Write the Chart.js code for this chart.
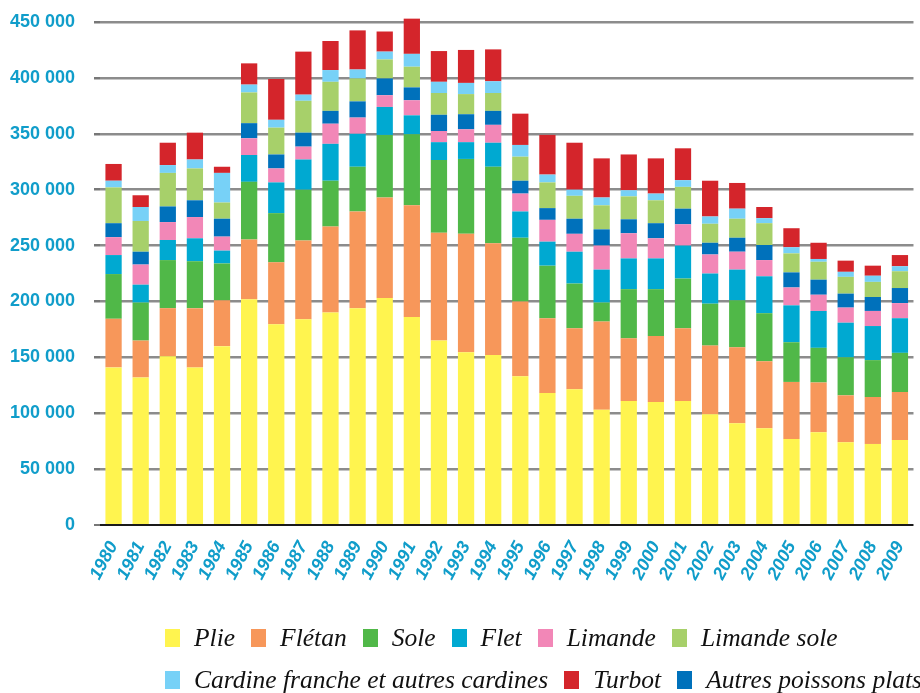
<!DOCTYPE html>
<html>
<head>
<meta charset="utf-8">
<script src="https://cdn.jsdelivr.net/npm/chart.js@4.4.1/dist/chart.umd.min.js"></script>
<style>
    html, body { margin: 0; padding: 0; background: #fff; width: 920px; height: 693px; overflow: hidden; }
    #chart { position: absolute; left: 0; top: 0; }
    .legend-row { position: absolute; left: 165px; display: flex; align-items: center; white-space: nowrap;
        font-family: "Liberation Serif", "Times New Roman", serif; font-style: italic; font-size: 25.5px; color: #111; }
    .legend-item { display: flex; align-items: center; margin-right: 16px; }
    .legend-box { width: 15px; height: 18px; margin-right: 14px; }
</style>
</head>
<body>
<canvas id="chart" width="924" height="693"></canvas>
<div id="legend-1" class="legend-row" style="top:623px"></div>
<div id="legend-2" class="legend-row" style="top:665px"></div>
<script>
const years = ['1980', '1981', '1982', '1983', '1984', '1985', '1986', '1987', '1988', '1989',
    '1990', '1991', '1992', '1993', '1994', '1995', '1996', '1997', '1998', '1999',
    '2000', '2001', '2002', '2003', '2004', '2005', '2006', '2007', '2008', '2009'];

// tonnes
const plie = [141000, 132000, 151000, 141000, 160000, 202000, 179500, 184000, 190000, 194000,
    203000, 186000, 165000, 154500, 152000, 133000, 118000, 121500, 103000, 111000,
    110000, 111000, 99000, 91000, 86500, 77000, 83000, 74000, 72500, 76000];
const fletan = [43500, 33000, 43000, 53000, 41000, 53500, 55500, 70500, 77000, 86500,
    90000, 100000, 96500, 106000, 100000, 67000, 67000, 54500, 79000, 56000,
    59000, 65000, 61500, 68000, 60000, 51000, 44500, 42000, 42000, 43000];
const sole = [40000, 34000, 43000, 42000, 33000, 51500, 44000, 45500, 41000, 40000,
    56000, 63500, 65000, 67000, 68500, 57000, 47000, 40000, 17000, 44000,
    42000, 44500, 37500, 42000, 43000, 35500, 31000, 34000, 33000, 35000];
const flet = [17000, 16000, 18000, 20500, 11500, 24000, 27500, 27000, 33000, 29500,
    25000, 17000, 16000, 15000, 21500, 23500, 21500, 28500, 29500, 27500,
    27500, 29500, 27000, 27500, 33000, 33000, 33000, 31000, 30500, 31000];
const limande = [16000, 18000, 16000, 19000, 12500, 15000, 12500, 11500, 18000, 14500,
    10500, 13500, 10000, 11500, 16000, 16000, 19500, 16000, 21500, 22500,
    18000, 19000, 17000, 16000, 14500, 16000, 14500, 13500, 13500, 13500];
const autres = [12500, 11500, 14000, 15000, 16000, 13500, 12500, 12500, 11500, 14500,
    15000, 11500, 14500, 13500, 12500, 11500, 10500, 13500, 14500, 12500,
    13500, 14000, 10500, 12500, 13500, 13500, 13500, 12500, 12500, 13500];
const limandeSole = [32000, 27500, 30000, 28500, 14500, 27500, 24000, 28500, 26000, 20500,
    17000, 18500, 19500, 18000, 16000, 21500, 23000, 20500, 21500, 20500,
    20500, 19500, 17000, 17000, 19500, 17000, 16000, 15000, 13500, 15000];
const cardine = [6000, 12500, 7000, 8000, 26500, 7000, 7000, 5500, 10500, 8000,
    7000, 11500, 10000, 10000, 10500, 10500, 7000, 5500, 7000, 5500,
    6000, 6000, 6500, 9000, 4500, 5500, 2500, 4500, 5500, 4500];
const turbot = [15000, 10500, 20000, 24000, 5500, 19000, 36500, 38500, 26000, 35000,
    18000, 31500, 27500, 29500, 28500, 28000, 35500, 42000, 35000, 32000,
    31500, 28500, 32000, 23000, 10000, 17000, 14500, 10000, 9000, 10000];

const yTicks = [0, 50000, 100000, 150000, 200000, 250000, 300000, 350000, 400000, 450000];

const axisBlue = '#109dca';

// stacking order, bottom to top
const series = [
    { label: 'Plie', data: plie, color: '#fff44f' },
    { label: 'Flétan', data: fletan, color: '#f7975a' },
    { label: 'Sole', data: sole, color: '#50b848' },
    { label: 'Flet', data: flet, color: '#00a9d1' },
    { label: 'Limande', data: limande, color: '#f287b7' },
    { label: 'Autres poissons plats', data: autres, color: '#0071bb' },
    { label: 'Limande sole', data: limandeSole, color: '#a7d06a' },
    { label: 'Cardine franche et autres cardines', data: cardine, color: '#77d1f7' },
    { label: 'Turbot', data: turbot, color: '#d4252b' }
];

const legendRows = [
    ['Plie', 'Flétan', 'Sole', 'Flet', 'Limande', 'Limande sole'],
    ['Cardine franche et autres cardines', 'Turbot', 'Autres poissons plats']
];

function formatNumber(v) {
    return String(v).replace(/\B(?=(\d{3})+(?!\d))/g, ' ');
}

const ctx = document.getElementById('chart').getContext('2d');
const chart = new Chart(ctx, {
    type: 'bar',
    data: {
        labels: years,
        datasets: series.map(s => ({
            label: s.label,
            data: s.data,
            backgroundColor: s.color,
            borderWidth: 0,
            categoryPercentage: 1,
            barPercentage: 0.6,
            clip: false
        }))
    },
    options: {
        responsive: false,
        animation: false,
        devicePixelRatio: 1,
        layout: { padding: { top: 22, left: 0, right: 0, bottom: 93 } },
        plugins: {
            legend: { display: false },
            tooltip: { enabled: false }
        },
        scales: {
            x: {
                stacked: true,
                grid: { display: false },
                border: { display: false },
                ticks: {
                    color: axisBlue,
                    autoSkip: false,
                    minRotation: 62,
                    maxRotation: 62,
                    padding: 5,
                    font: { family: 'Liberation Sans', size: 18, weight: 'bold', style: 'italic' }
                },
                afterFit: s => { s.height = 75; }
            },
            y: {
                stacked: true,
                min: 0,
                max: 450000,
                afterBuildTicks: s => { s.ticks = yTicks.map(v => ({ value: v })); },
                border: { display: false },
                grid: {
                    color: c => c.tick && c.tick.value === 0 ? '#1a1a1a' : '#8c8c8c',
                    lineWidth: c => c.tick && c.tick.value === 0 ? 2 : 2.5,
                    tickColor: '#777',
                    tickLength: 6
                },
                ticks: {
                    color: axisBlue,
                    padding: 19,
                    callback: v => formatNumber(v),
                    font: { family: 'Liberation Sans', size: 18, weight: 'bold' }
                },
                afterFit: s => {
                    s.width = 100;
                    s.paddingTop = 0;
                    s.paddingBottom = 0;
                }
            }
        }
    }
});

// html legend, rows laid out like the original
legendRows.forEach((row, i) => {
    const el = document.getElementById('legend-' + (i + 1));
    row.forEach(name => {
        const ds = chart.data.datasets.find(d => d.label === name);
        const item = document.createElement('div');
        item.className = 'legend-item';
        item.innerHTML = `<span class="legend-box" style="background:${ds.backgroundColor}"></span><span>${ds.label}</span>`;
        el.appendChild(item);
    });
});
</script>
</body>
</html>
